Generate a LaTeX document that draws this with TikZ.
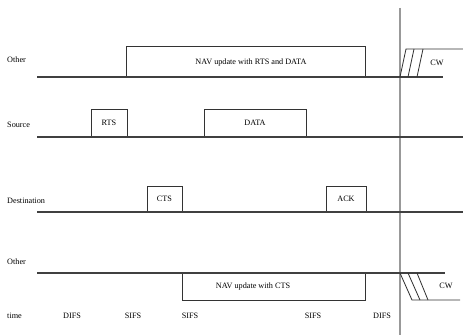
\documentclass[tikz,border=0pt]{standalone}
\usepackage{fontspec}
\setmainfont{Liberation Serif}

\tikzset{
    lbl/.style={anchor=west, font=\fontsize{7}{8}\selectfont, inner sep=0pt},
    txt/.style={font=\fontsize{7}{8}\selectfont, inner sep=0pt},
    slot/.style={rectangle, draw=black!80, line width=0.7pt, inner sep=0pt, font=\fontsize{7}{8}\selectfont},
    axis/.style={draw=black!75, line width=1.1pt},
    frame/.style={draw=black!80, line width=0.7pt}
}

\begin{document}
\begin{tikzpicture}[x=0.03cm, y=-0.03cm]

        \useasboundingbox (0,0) rectangle (463,335);

        % Define nodes (row labels)

        \node (other1) at ( 7, 60 ) [lbl] {Other};
        \node (source) at ( 7, 125 ) [lbl] {Source};
        \node (dest) at ( 7, 201 ) [lbl] {Destination};
        \node (other2) at ( 7, 262 ) [lbl] {Other};
        \node (time) at ( 7, 316 ) [lbl] {time};

        % frames on the lines

        \node (rts) at ( 109, 123 ) [slot, minimum width=1.08cm, minimum height=0.84cm] {RTS};
        \node (data) at ( 255, 123 ) [slot, minimum width=3.06cm, minimum height=0.84cm] {DATA};
        \node (cts) at ( 164.5, 199 ) [slot, minimum width=1.05cm, minimum height=0.78cm] {CTS};
        \node (ack) at ( 346, 199 ) [slot, minimum width=1.2cm, minimum height=0.78cm] {ACK};

        \draw[frame] (126, 77) rectangle (365, 46);
        \node (navtop) at ( 251, 63 ) [txt] {NAV update with RTS and DATA};

        \draw[frame] (182, 273) rectangle (365, 300);
        \node (navbot) at ( 253, 287 ) [txt] {NAV update with CTS};

        % time marks

        \node (difs1) at ( 72, 316 ) [txt] {DIFS};
        \node (sifs1) at ( 133, 316 ) [txt] {SIFS};
        \node (sifs2) at ( 190, 316 ) [txt] {SIFS};
        \node (sifs3) at ( 313, 316 ) [txt] {SIFS};
        \node (difs2) at ( 382, 316 ) [txt] {DIFS};

        % contention windows

        \node (cw1) at ( 437, 63 ) [txt] {CW};
        \node (cw2) at ( 446, 286 ) [txt] {CW};

        % Draw lines

        \draw[black!40, line width=1pt] (400, 8) -- (400, 335);

        \draw[axis] (37, 77) -- (443, 77);
        \draw[axis] (37, 137) -- (463, 137);
        \draw[axis] (37, 212) -- (463, 212);
        \draw[axis] (37, 273) -- (445, 273);

        \draw[frame] (400, 77) -- (406, 49) -- (463, 49);
        \draw[frame] (408, 77) -- (414, 49);
        \draw[frame] (417, 77) -- (423, 49);

        \draw[frame] (400, 273) -- (412, 300) -- (460, 300);
        \draw[frame] (408, 273) -- (420, 300);
        \draw[frame] (417, 273) -- (428, 300);

    \end{tikzpicture}
\end{document}
